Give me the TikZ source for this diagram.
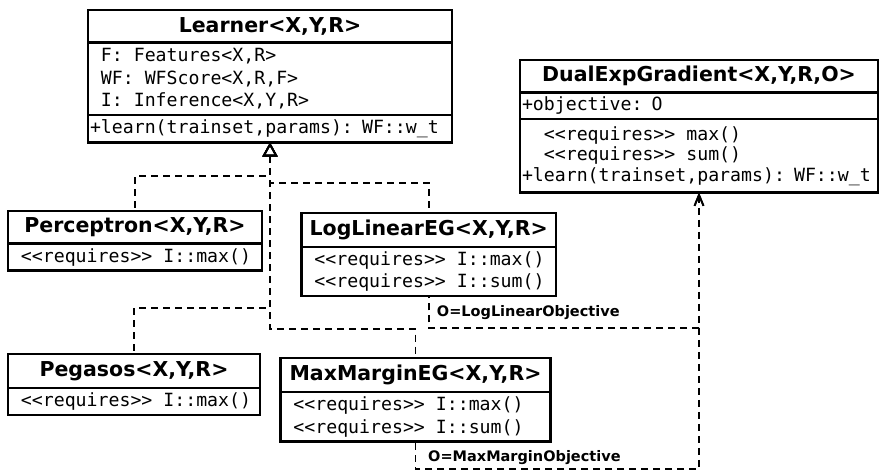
\documentclass[tikz,border=0pt]{standalone}
\usepackage{fontspec}
\setsansfont{DejaVu Sans}
\setmonofont{DejaVu Sans Mono}
\usetikzlibrary{arrows.meta,positioning}
\newcommand{\vis}{\phantom{+}}
\newcommand{\monospacing}{\spaceskip=0.602em\relax}
\tikzset{
 classname/.style={draw, line width=2.6pt, outer sep=0pt, inner sep=0pt, fill=white, font=\sffamily\bfseries\fontsize{20.5}{24}\selectfont},
 members/.style={draw, line width=2.4pt, outer sep=0pt, inner xsep=2pt, inner ysep=0pt, fill=white, align=left, font=\ttfamily\fontsize{18.2}{22.5}\selectfont, execute at begin node=\monospacing},
 inherit/.style={{Triangle[open,length=14pt,width=15pt]}-, line width=1.8pt, dash pattern=on 7pt off 5pt},
 binding/.style={{Straight Barb[length=11pt,width=9pt]}-, line width=1.8pt, dash pattern=on 7pt off 5pt},
 bindlabel/.style={anchor=west, inner sep=0pt, font=\sffamily\bfseries\fontsize{14.5}{17}\selectfont}
}
\begin{document}
\begin{tikzpicture}[x=1pt,y=-1pt]
\useasboundingbox (0,0) rectangle (880,471);
\node[classname,minimum width=364,minimum height=32.5,anchor=north west] (learner) at (88,10) {Learner<X,Y,R>};
\node[members,text width=360,minimum height=72.5,below=0pt of learner] (learnerattr) {\vis F: Features<X,R>\\\vis WF: WFScore<X,R,F>\\\vis I: Inference<X,Y,R>};
\node[members,text width=360,minimum height=27.5,below=0pt of learnerattr] (learnerops) {+learn(trainset,params): WF::w\_t};
\node[classname,minimum width=358,minimum height=32.5,anchor=north west] (dual) at (520,60) {DualExpGradient<X,Y,R,O>};
\node[members,text width=354,minimum height=26.5,below=0pt of dual] (dualattr) {+objective: O};
\node[members,text width=354,minimum height=73.5,below=0pt of dualattr,font=\ttfamily\fontsize{18.2}{20.5}\selectfont] (dualops) {\vis\vis<<requires>> max()\\\vis\vis<<requires>> sum()\\+learn(trainset,params): WF::w\_t};
\node[classname,minimum width=254,minimum height=32.5,anchor=north west] (perceptron) at (8,211) {Perceptron<X,Y,R>};
\node[members,text width=250,minimum height=27,below=0pt of perceptron] (perceptronops) {\vis<<requires>> I::max()};
\node[classname,minimum width=254.5,minimum height=34,anchor=north west] (loglinear) at (301.5,213) {LogLinearEG<X,Y,R>};
\node[members,text width=250.5,minimum height=49,below=0pt of loglinear] (loglinearops) {\vis<<requires>> I::max()\\\vis<<requires>> I::sum()};
\node[classname,minimum width=252,minimum height=34,anchor=north west] (pegasos) at (8,354) {Pegasos<X,Y,R>};
\node[members,text width=248,minimum height=27,below=0pt of pegasos] (pegasosops) {\vis<<requires>> I::max()};
\node[classname,minimum width=270,minimum height=34,anchor=north west] (maxmargin) at (280.5,358) {MaxMarginEG<X,Y,R>};
\node[members,text width=266,minimum height=49.5,below=0pt of maxmargin] (maxmarginops) {\vis<<requires>> I::max()\\\vis<<requires>> I::sum()};
\node[bindlabel] (loglabel) at ([xshift=8pt,yshift=-16.5pt]loglinearops.south) {O=LogLinearObjective};
\node[bindlabel] (maxlabel) at ([xshift=12.5pt,yshift=-16pt]maxmarginops.south) {O=MaxMarginObjective};
\draw[inherit] (learnerops.south) -- ++(0,33.5) -| (perceptron.north);
\draw[inherit] (learnerops.south) -- ++(0,40.5) -| (loglinear.north);
\draw[inherit] (learnerops.south) -- ++(0,165.5) -| (pegasos.north);
\draw[inherit] (learnerops.south) -- ++(0,186.5) -| (maxmargin.north);
\draw[binding] (dualops.south) -- ++(0,135.5) -| (loglinearops.south);
\draw[binding] (dualops.south) -- ++(0,276.5) -| (maxmarginops.south);
\end{tikzpicture}
\end{document}
